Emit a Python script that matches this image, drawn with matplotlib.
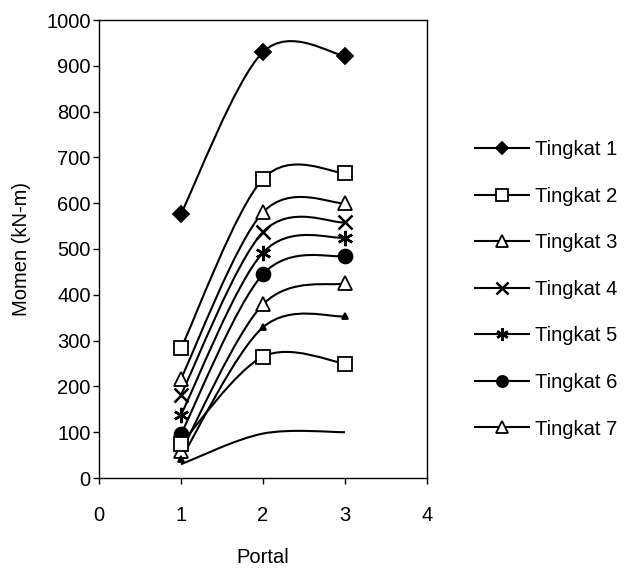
import matplotlib
matplotlib.use("Agg")
import matplotlib.pyplot as plt
from matplotlib.path import Path
from matplotlib.patches import PathPatch
from matplotlib.lines import Line2D

plt.rcParams['font.family'] = ['Liberation Sans', 'DejaVu Sans']

portal = [1, 2, 3]
series_names = ["Tingkat 1", "Tingkat 2", "Tingkat 3", "Tingkat 4", "Tingkat 5",
                "Tingkat 6", "Tingkat 7", "Tingkat 8", "Tingkat 9", "Tingkat 10"]
t1 = [577, 930, 922]
t2 = [283, 653, 666]
t3 = [217, 580, 600]
t4 = [182, 537, 558]
t5 = [138, 492, 525]
t6 = [96, 445, 485]
t7 = [58, 379, 425]
t8 = [42, 329, 353]
t9 = [75, 265, 250]
t10 = [30, 97, 100]
values = [t1, t2, t3, t4, t5, t6, t7, t8, t9, t10]
in_legend = 7

styles = [
    dict(marker='D', mfc='black', ms=8),
    dict(marker='s', mfc='white', ms=10),
    dict(marker='^', mfc='white', ms=10),
    dict(marker='x', mfc='black', ms=10, mew=1.8),
    dict(marker=(6, 2, 0), mfc='black', ms=11, mew=1.8),
    dict(marker='o', mfc='black', ms=10),
    dict(marker='^', mfc='white', ms=10),
    dict(marker='^', mfc='black', ms=4),
    dict(marker='s', mfc='white', ms=10),
    dict(marker='None'),
]

W, H = 635, 571
fig = plt.figure(figsize=(W / 100, H / 100), dpi=100)
ax = fig.add_axes([99 / W, 1 - 478 / H, (427 - 99) / W, (478 - 20) / H])


def smooth_path(xs, ys):
    pts = list(zip(xs, ys))
    n = len(pts)
    verts = [pts[0]]
    codes = [Path.MOVETO]
    for i in range(n - 1):
        p0 = pts[max(i - 1, 0)]
        p1 = pts[i]
        p2 = pts[i + 1]
        p3 = pts[min(i + 2, n - 1)]
        c1 = (p1[0] + (p2[0] - p0[0]) / 6, p1[1] + (p2[1] - p0[1]) / 6)
        c2 = (p2[0] - (p3[0] - p1[0]) / 6, p2[1] - (p3[1] - p1[1]) / 6)
        verts += [c1, c2, p2]
        codes += [Path.CURVE4] * 3
    return Path(verts, codes)


handles = []
for name, vals, st in zip(series_names, values, styles):
    ax.add_patch(PathPatch(smooth_path(portal, vals), fill=False,
                           edgecolor='black', lw=1.5, zorder=2))
    ax.plot(portal, vals, ls='none', color='black', mec='black',
            mew=st.get('mew', 1.3), marker=st['marker'],
            mfc=st.get('mfc', 'black'), ms=st.get('ms', 8), zorder=3)
    handles.append(Line2D([], [], color='black', lw=1.5, marker=st['marker'],
                          mfc=st.get('mfc', 'black'), mec='black',
                          mew=st.get('mew', 1.3),
                          ms=st.get('ms', 8) * 0.8, label=name))

ax.set_xlim(0, 4)
ax.set_ylim(0, 1000)
ax.set_xticks([0, 1, 2, 3, 4])
ax.set_yticks(range(0, 1001, 100))
ax.tick_params(axis='both', direction='out', length=4, width=1, labelsize=14.5)
ax.tick_params(axis='x', pad=16)
ax.tick_params(axis='y', pad=2)
for s in ax.spines.values():
    s.set_linewidth(1)
ax.set_xlabel("Portal", fontsize=14.5, labelpad=17)
ax.set_ylabel("Momen (kN-m)", fontsize=14.5, labelpad=11)

fig.legend(handles=handles[:in_legend], loc='upper left',
           bbox_to_anchor=(475 / W, 1 - 140 / H), frameon=False,
           fontsize=14.5, borderpad=0, borderaxespad=0, handlelength=2.7,
           handletextpad=0.3, labelspacing=1.37)

fig.savefig("out.png", dpi=100)
